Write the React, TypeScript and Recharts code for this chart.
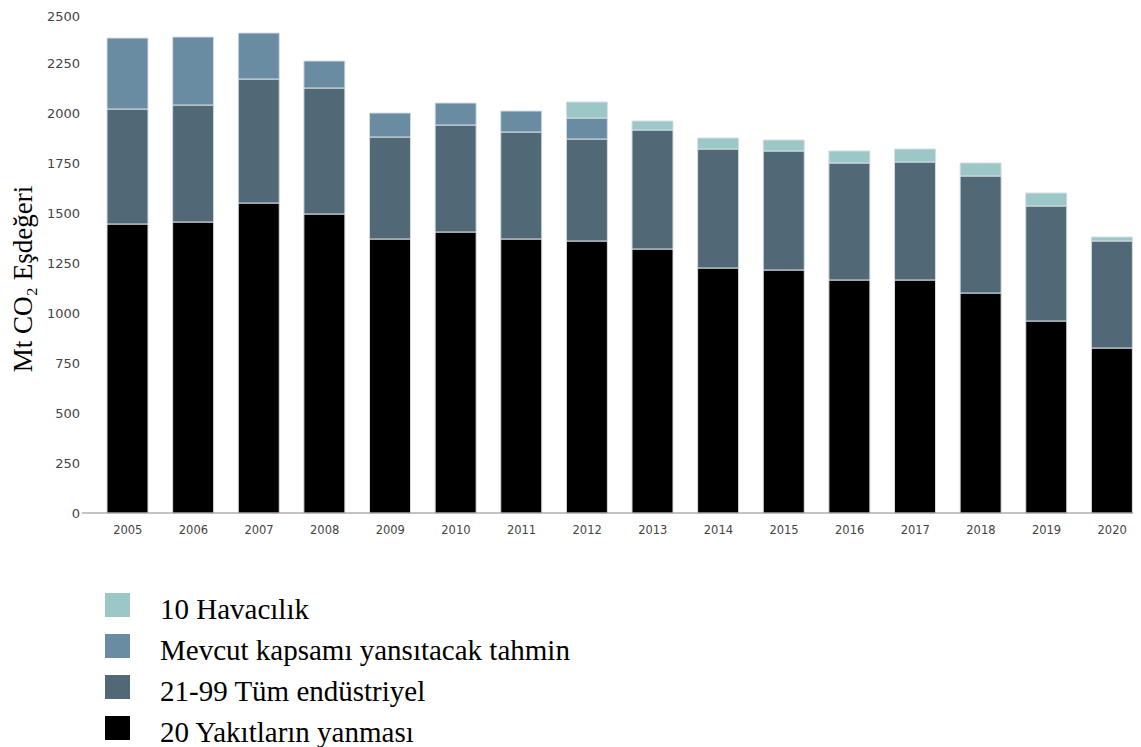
import React from 'react';
import { BarChart, Bar, XAxis, YAxis, Legend, Label } from 'recharts';

// years on the x axis
const years = ['2005', '2006', '2007', '2008', '2009', '2010', '2011', '2012', '2013', '2014', '2015', '2016', '2017', '2018', '2019', '2020'];

// Mt CO2 eq. per sector
const fuelCombustion = [1445, 1455, 1550, 1495, 1370, 1405, 1370, 1360, 1320, 1225, 1215, 1165, 1165, 1100, 960, 825];
const industrial = [575, 585, 620, 630, 510, 535, 535, 510, 595, 595, 595, 585, 590, 585, 575, 535];
const scopeEstimate = [355, 340, 230, 135, 120, 110, 105, 105, null, null, null, null, null, null, null, null];
const aviation = [null, null, null, null, null, null, null, 80, 45, 55, 55, 60, 65, 65, 65, 20];

const yTicks = [0, 250, 500, 750, 1000, 1250, 1500, 1750, 2000, 2250, 2500];

// legend order: top to bottom as in the picture
const series = [
    { key: 'aviation', name: '10 Havacılık', color: '#9cc7c7' },
    { key: 'estimate', name: 'Mevcut kapsamı yansıtacak tahmin', color: '#698ca2' },
    { key: 'industrial', name: '21-99 Tüm endüstriyel', color: '#516877' },
    { key: 'fuel', name: '20 Yakıtların yanması', color: '#000000' },
];

const data = years.map((year, i) => ({
    year,
    fuel: fuelCombustion[i],
    industrial: industrial[i],
    estimate: scopeEstimate[i],
    aviation: aviation[i],
}));

const colorOf = (key: string) => series.find((s) => s.key === key)!.color;

const renderLegend = () => (
    <div style={{ height: 205, paddingTop: 41, boxSizing: 'border-box' }}>
        {series.map((s) => (
            <div key={s.key} style={{ display: 'flex', alignItems: 'center', height: 41 }}>
                <span style={{ width: 25, height: 24, background: s.color, display: 'inline-block' }} />
                <span
                    style={{
                        marginLeft: 30,
                        fontFamily: '"Liberation Serif", "Times New Roman", serif',
                        fontSize: 29,
                        color: '#000',
                        lineHeight: '29px',
                        position: 'relative',
                        top: 5,
                        whiteSpace: 'nowrap',
                    }}
                >
                    {s.name}
                </span>
            </div>
        ))}
    </div>
);

const renderYLabel = (props: any) => {
    const vb = props.viewBox;
    const cx = 15;
    const cy = vb.y + vb.height / 2 + 16;
    return (
        <text
            x={cx}
            y={cy}
            transform={`rotate(-90, ${cx}, ${cy})`}
            textAnchor="middle"
            dominantBaseline="central"
            style={{ fontFamily: '"Liberation Serif", "Times New Roman", serif', fontSize: 27, fill: '#000' }}
        >
            Mt CO₂ Eşdeğeri
        </text>
    );
};

const App: React.FC = () => {
    return (
        <div style={{ width: 1133, height: 739, overflow: 'hidden' }}>
            <BarChart
                width={1137}
                height={740}
                data={data}
                margin={{ top: 5, right: 0, bottom: 0, left: 0 }}
                barSize={41}
            >
                <XAxis
                    dataKey="year"
                    height={30}
                    padding={{ left: 13, right: 0 }}
                    tickLine={false}
                    tickMargin={7}
                    stroke="#888"
                    tick={{ fill: '#444', fontSize: 11.5, fontFamily: '"DejaVu Sans", Verdana, sans-serif' }}
                />
                <YAxis
                    width={74}
                    domain={[0, 2500]}
                    ticks={yTicks}
                    axisLine={false}
                    tickLine={false}
                    tickSize={0}
                    tickMargin={2}
                    tick={{ fill: '#444', fontSize: 13, fontFamily: '"DejaVu Sans", Verdana, sans-serif' }}
                >
                    <Label content={renderYLabel} />
                </YAxis>
                <Legend verticalAlign="bottom" align="left" content={renderLegend} wrapperStyle={{ left: 97 }} />
                <Bar dataKey="fuel" name={series[3].name} stackId="a" fill={colorOf('fuel')} stroke="#d6dde1" strokeWidth={1} isAnimationActive={false} />
                <Bar dataKey="industrial" name={series[2].name} stackId="a" fill={colorOf('industrial')} stroke="#d6dde1" strokeWidth={1} isAnimationActive={false} />
                <Bar dataKey="estimate" name={series[1].name} stackId="a" fill={colorOf('estimate')} stroke="#d6dde1" strokeWidth={1} isAnimationActive={false} />
                <Bar dataKey="aviation" name={series[0].name} stackId="a" fill={colorOf('aviation')} stroke="#d6dde1" strokeWidth={1} isAnimationActive={false} />
            </BarChart>
        </div>
    );
};

export default App;
